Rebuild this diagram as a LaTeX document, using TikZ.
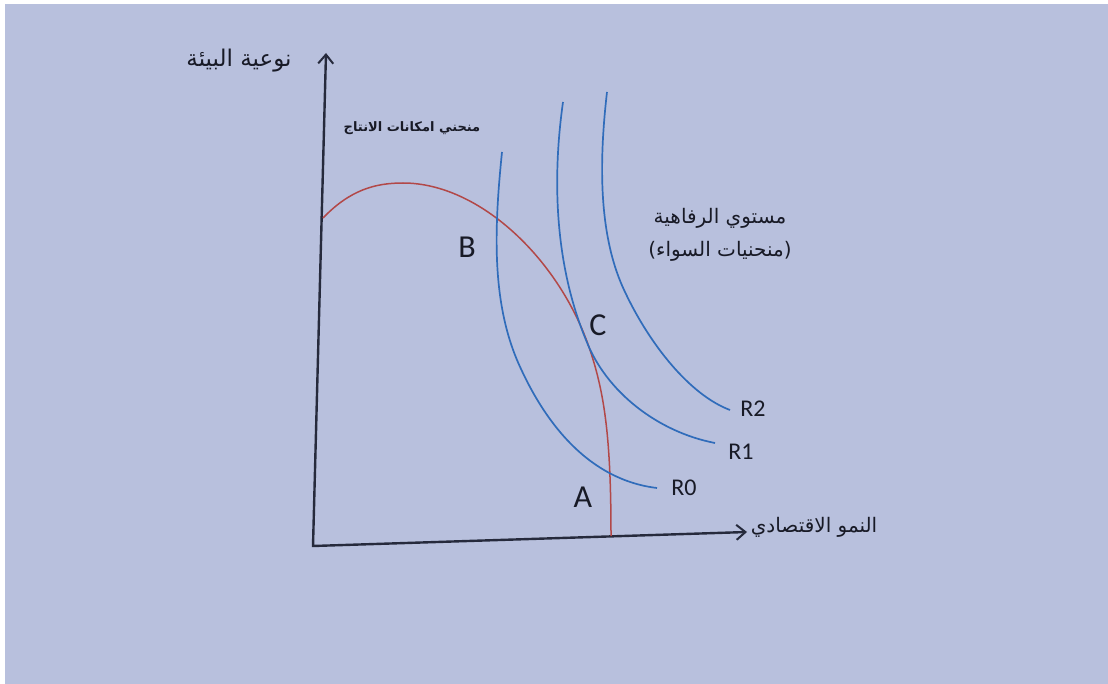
\documentclass[tikz,border=0pt]{standalone}
\usepackage{fontspec}
\setmainfont{Carlito}
\newfontfamily\arabicfont[Script=Arabic]{DejaVu Sans}
\TeXXeTstate=1
\usetikzlibrary{arrows.meta}
\definecolor{paper}{RGB}{184,192,221}
\definecolor{axisink}{RGB}{38,42,60}
\definecolor{ppcred}{RGB}{178,72,72}
\definecolor{icblue}{RGB}{48,108,186}
\definecolor{textink}{RGB}{24,26,38}

\begin{document}
\begin{tikzpicture}[x=1pt,y=-1pt,
  axis/.style={draw=axisink, line width=2.4pt, line join=miter,
    {Straight Barb[length=9pt,width=15pt,line width=2pt]}-{Straight Barb[length=9pt,width=15pt,line width=2pt]}},
  ppc/.style={draw=ppcred, line width=1.5pt},
  indiff/.style={draw=icblue, line width=1.7pt},
  pointlbl/.style={text=textink, font=\fontsize{32}{34}\selectfont},
  curvelbl/.style={text=textink, font=\fontsize{24}{26}\selectfont},
  arlbl/.style={text=textink, font=\arabicfont\fontsize{21}{32}\selectfont, align=center}]
  % Page
  \fill[white] (0,0) rectangle (1108,684);
  \fill[paper] (5,4) rectangle (1108,684);
  \useasboundingbox (0,0) rectangle (1108,684);
  % Axes
  \coordinate (O) at (313,546);
  \coordinate (ytip) at (326,53);
  \coordinate (xtip) at (747,532);
  \draw[axis] (ytip) -- (O) -- (xtip);
  % Production possibilities curve
  \draw[ppc] (323,218) .. controls (350,190) and (375,183) .. (403,183)
    .. controls (480,183) and (560,260) .. (590,350)
    .. controls (605,395) and (611,440) .. (611,536);
  % Indifference curves
  \draw[indiff] (502,152) .. controls (494,230) and (492,300) .. (517,360)
    .. controls (545,425) and (590,480) .. (657,488);
  \draw[indiff] (563,102) .. controls (552,180) and (555,265) .. (586,340)
    .. controls (606,392) and (658,432) .. (715,443);
  \draw[indiff] (607,92) .. controls (598,170) and (600,240) .. (625,292)
    .. controls (650,345) and (690,395) .. (730,410);
  % Points
  \node[pointlbl] (B) at (467,247) {B};
  \node[pointlbl] (C) at (598,325) {C};
  \node[pointlbl] (A) at (583,497) {A};
  % Curve names
  \node[curvelbl] (R0) at (684,488) {R0};
  \node[curvelbl] (R1) at (741,452) {R1};
  \node[curvelbl] (R2) at (753,409) {R2};
  % Arabic labels
  \node[arlbl, font=\arabicfont\fontsize{23}{28}\selectfont] (ylabel) at (239,61) {\beginR نوعية البيئة\endR};
  \node[arlbl, font=\arabicfont\fontsize{20}{26}\selectfont] (xlabel) at (814,527) {\beginR النمو الاقتصادي\endR};
  \node[arlbl, font=\arabicfont\bfseries\fontsize{13}{16}\selectfont] (ppclabel) at (412,128) {\beginR منحني امكانات الانتاج\endR};
  \node[arlbl, font=\arabicfont\fontsize{20}{33}\selectfont] (welfare) at (720,235) {\beginR مستوي الرفاهية\endR\\\beginR (منحنيات السواء)\endR};
\end{tikzpicture}
\end{document}
